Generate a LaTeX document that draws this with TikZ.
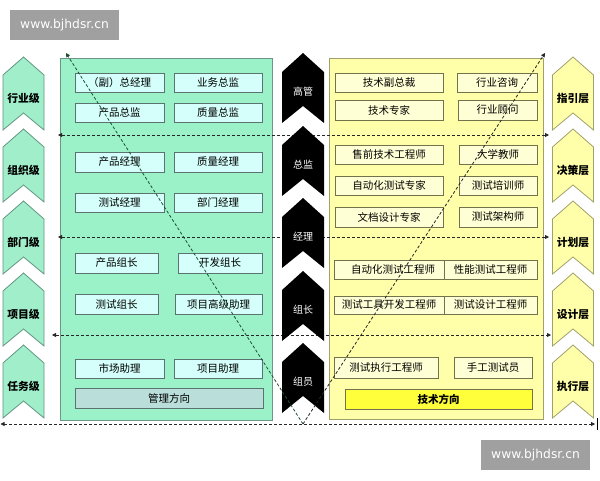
\documentclass[tikz,border=0pt]{standalone}
\usepackage{fontspec}
\newfontfamily\cjk{Noto Sans CJK SC}
\newfontfamily\wmfont{DejaVu Sans}
\usetikzlibrary{arrows.meta}
\definecolor{gpanel}{RGB}{155,242,200}
\definecolor{gpanelb}{RGB}{110,150,135}
\definecolor{gboxf}{RGB}{212,255,250}
\definecolor{gboxb}{RGB}{90,115,110}
\definecolor{mboxf}{RGB}{186,222,218}
\definecolor{ypanel}{RGB}{255,255,170}
\definecolor{ypanelb}{RGB}{160,160,110}
\definecolor{yboxf}{RGB}{255,255,214}
\definecolor{yboxb}{RGB}{115,115,75}
\definecolor{tboxf}{RGB}{255,255,60}
\definecolor{gchev}{RGB}{160,238,202}
\definecolor{gchevb}{RGB}{100,150,130}
\definecolor{wmgray}{RGB}{160,160,160}
\definecolor{diagg}{RGB}{30,80,50}
\newcommand\bx[7]{\node[#7, minimum width={(#4-#2)*1pt}, minimum height={(#5-#3)*1pt}] (#1) at ({(#2+#4)/2},{(#3+#5)/2}) {#6};}
\newcommand\sidechev[2]{(#1-20.5,#2-23) -- (#1,#2-41) -- (#1+20.5,#2-23) -- (#1+20.5,#2+32) -- (#1,#2+15) -- (#1-20.5,#2+32) -- cycle}
\newcommand\midchev[2]{(#1-21,#2-20) -- (#1,#2-39) -- (#1+21,#2-20) -- (#1+21,#2+31) -- (#1,#2+14) -- (#1-21,#2+31) -- cycle}
\begin{document}
\begin{tikzpicture}[x=1pt,y=-1pt,
  txt/.style={font=\cjk\fontsize{10.5}{12}\selectfont, inner sep=0pt},
  gbox/.style={txt, draw=gboxb, fill=gboxf, line width=0.8pt},
  mbox/.style={txt, draw=gboxb, fill=mboxf, line width=0.8pt},
  ybox/.style={txt, draw=yboxb, fill=yboxf, line width=0.8pt},
  tbox/.style={txt, draw=yboxb, fill=tboxf, line width=0.8pt, font=\cjk\bfseries\fontsize{10.5}{12}\selectfont},
  sidelabel/.style={txt, font=\cjk\bfseries\fontsize{10.8}{12}\selectfont},
  midlabel/.style={txt, text=white, font=\cjk\fontsize{10}{12}\selectfont},
  dashline/.style={draw=black!85, line width=0.8pt, dash pattern=on 3pt off 2pt},
  tip/.style={-{Triangle[length=4pt,width=4pt]}},
  bothtips/.style={{Triangle[length=4pt,width=4pt]}-{Triangle[length=4pt,width=4pt]}},
  wmbox/.style={fill=wmgray, text=white, font=\wmfont\fontsize{12.3}{14}\selectfont, inner sep=0pt, minimum width=109pt, minimum height=30pt}
]
\useasboundingbox (0,0) rectangle (600,480);
\fill[white] (0,0) rectangle (600,480);

% watermarks
\node[wmbox] (wm1) at (64.5,25) {www.bjhdsr.cn};
\node[wmbox] (wm2) at (535.5,455) {www.bjhdsr.cn};

% panels
\draw[fill=gpanel, draw=gpanelb, line width=0.8pt] (60,58) rectangle (272,420);
\draw[fill=ypanel, draw=ypanelb, line width=0.8pt] (329,58) rectangle (543,419);

% green boxes
\bx{a1}{75}{73}{164}{92}{（副）总经理}{gbox}
\bx{a2}{174}{73}{262}{92}{业务总监}{gbox}
\bx{a3}{75}{103}{164}{122}{产品总监}{gbox}
\bx{a4}{174}{103}{262}{122}{质量总监}{gbox}
\bx{a5}{75}{152}{164}{172}{产品经理}{gbox}
\bx{a6}{174}{152}{262}{172}{质量经理}{gbox}
\bx{a7}{75}{193}{164}{212}{测试经理}{gbox}
\bx{a8}{174}{193}{262}{212}{部门经理}{gbox}
\bx{a9}{75}{253}{158}{273}{产品组长}{gbox}
\bx{a10}{178}{253}{262}{273}{开发组长}{gbox}
\bx{a11}{75}{294}{158}{314}{测试组长}{gbox}
\bx{a12}{175}{294}{262}{314}{项目高级助理}{gbox}
\bx{a13}{75}{359}{164}{378}{市场助理}{gbox}
\bx{a14}{174}{359}{262}{378}{项目助理}{gbox}
\bx{a15}{75}{388}{263}{408}{管理方向}{mbox}

% yellow boxes
\bx{b1}{335}{73}{443}{92}{技术副总裁}{ybox}
\bx{b2}{457}{73}{537}{92}{行业咨询}{ybox}
\bx{b3}{335}{100}{443}{120}{技术专家}{ybox}
\bx{b4}{458}{100}{537}{120}{行业顾问}{ybox}
\bx{b5}{335}{145}{443}{164}{售前技术工程师}{ybox}
\bx{b6}{459}{145}{537}{164}{大学教师}{ybox}
\bx{b7}{335}{176}{443}{195}{自动化测试专家}{ybox}
\bx{b8}{459}{176}{537}{195}{测试培训师}{ybox}
\bx{b9}{335}{207}{443}{227}{文档设计专家}{ybox}
\bx{b10}{459}{207}{537}{227}{测试架构师}{ybox}
\bx{b11}{334}{260}{444}{279}{\hspace*{8pt}自动化测试工程师}{ybox}
\bx{b12}{444}{260}{537}{279}{性能测试工程师}{ybox}
\bx{b13}{334}{296}{444}{314}{测试工具开发工程师}{ybox}
\bx{b14}{444}{296}{537}{314}{测试设计工程师}{ybox}
\bx{b15}{334}{357}{438}{378}{测试执行工程师}{ybox}
\bx{b16}{454}{357}{532}{378}{手工测试员}{ybox}
\bx{b17}{345}{389}{532}{409}{技术方向}{tbox}

% side chevrons
\foreach \c/\l/\r [count=\i] in {98/行业级/指引层,170/组织级/决策层,242/部门级/计划层,314/项目级/设计层,386/任务级/执行层}{
  \draw[fill=gchev, draw=gchevb, line width=0.8pt, line join=miter] \sidechev{23.5}{\c};
  \draw[fill=ypanel, draw=ypanelb, line width=0.8pt, line join=miter] \sidechev{573}{\c};
  \node[sidelabel] (l\i) at (23.5,\c) {\l};
  \node[sidelabel] (r\i) at (573,\c) {\r};
}

% horizontal dashed lines
\coordinate (h1l) at (58,135);  \coordinate (h1r) at (549,135);
\coordinate (h2l) at (58,237);  \coordinate (h2r) at (549,237);
\coordinate (h3l) at (52,335);  \coordinate (h3r) at (551,335);
\coordinate (h4l) at (0.5,424); \coordinate (h4r) at (595,424);
\coordinate (bart) at (597.5,418); \coordinate (barb) at (597.5,430);
\draw[dashline, bothtips] (h1l) -- (h1r);
\draw[dashline, bothtips] (h2l) -- (h2r);
\draw[dashline, bothtips] (h3l) -- (h3r);
\draw[dashline, bothtips] (h4l) -- (h4r);
\draw[black, line width=1pt] (bart) -- (barb);

% middle black chevrons
\foreach \c/\t [count=\i] in {92/高管,165/总监,237/经理,310/组长,382/组员}{
  \fill[black] \midchev{303}{\c};
  \node[midlabel] (m\i) at (303,\c) {\t};
}

% diagonal dashed lines
\coordinate (vtx) at (303,424);
\coordinate (dl) at (66,53);
\coordinate (dr) at (545,53);
\draw[dashline, draw=diagg, tip] (vtx) -- (dl);
\draw[dashline, tip] (vtx) -- (dr);
\end{tikzpicture}
\end{document}
